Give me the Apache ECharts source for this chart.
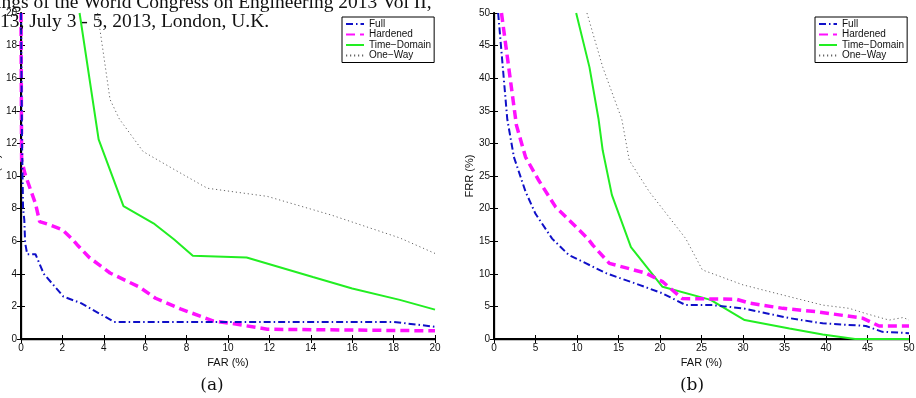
<!DOCTYPE html>
<html>
<head>
<meta charset="utf-8">
<script src="https://cdn.jsdelivr.net/npm/echarts@6/dist/echarts.min.js"></script>
<style>
  html, body { margin: 0; padding: 0; background: #fff; }
  #box { width: 916px; height: 398px; }
</style>
</head>
<body>
<div id="box"></div>
<script>
// data: [FAR, FRR] pairs

// (a) FAR 0-20
var fullA = [[0,20],[0.05,12],[0.1,8.0],[0.16,7.3],[0.2,5.9],[0.3,5.2],[0.7,5.2],[1.1,4.0],[2.05,2.6],[2.9,2.2],[4.5,1.05],[18,1.05],[20,0.75]];
var hardA = [[0,20],[0.03,11],[0.2,10.1],[0.45,9.2],[0.7,8.3],[0.9,7.2],[1.4,7.0],[2.0,6.7],[2.5,6.1],[2.7,5.8],[3.3,5.0],[4.3,4.05],[5.7,3.2],[6.5,2.5],[7.7,1.85],[9.3,1.1],[10.2,0.95],[11.9,0.6],[20,0.5]];
var timeA = [[2.83,20],[3.75,12.25],[4.95,8.15],[6.4,7.1],[7.4,6.1],[8.3,5.1],[10.9,5.0],[14.1,3.8],[16,3.1],[18.3,2.4],[20,1.8]];
var oneA  = [[3.7,20],[4.3,14.7],[4.75,13.5],[5.9,11.5],[7.4,10.4],[9.0,9.25],[11.9,8.75],[15,7.6],[18.3,6.2],[20,5.25]];

// (b) FAR 0-50
var fullB = [[0.5,50],[1.6,33.7],[2.4,27.9],[3.8,22.6],[5.0,19.2],[7.0,15.4],[9.0,12.9],[13.5,10.1],[17.5,8.3],[20.3,7.0],[23.1,5.2],[26.3,5.2],[30,4.7],[35.6,3.2],[39.6,2.4],[44.8,2.0],[46.8,1.1],[50,0.9]];
var hardB = [[0.9,50],[2.7,32.8],[3.8,27.9],[5.4,24.3],[7.4,20.3],[11.3,15.4],[11.9,14.4],[13.9,11.6],[18.3,10.1],[20.3,8.8],[22.7,6.2],[29.2,6.1],[30.8,5.5],[34.8,4.7],[38.8,4.2],[44.4,3.2],[46.4,2.0],[50,2.0]];
var timeB = [[9.9,50],[11.5,41.7],[12.6,33.7],[13.1,28.9],[14.2,22.1],[16.5,14.1],[20.3,8.0],[26.1,6.0],[30.2,2.9],[35.6,1.6],[39.6,0.7],[43.5,0],[50,0]];
var oneB  = [[11.2,50],[13.1,41.7],[15.4,33.7],[16.3,27.4],[18.7,22.6],[23.1,15.4],[25.1,10.6],[30,8.3],[34,7.0],[39.6,5.2],[42.8,4.7],[44.8,3.9],[47.6,2.9],[49.3,3.3],[50,2.9]];

var names = ['Full', 'Hardened', 'Time\u2212Domain', 'One\u2212Way'];
var headerLines = ['ings of the World Congress on Engineering 2013 Vol II,', '13, July 3 - 5, 2013, London, U.K.'];

var myChart = echarts.init(document.getElementById('box'));

var labelFont = { fontFamily: 'Liberation Sans', fontSize: 10, color: '#111' };
var nameFont = { fontFamily: 'Liberation Sans', fontSize: 11, color: '#111' };

function mainX(grid, max, step) {
    return {
        type: 'value', gridIndex: grid, min: 0, max: max, interval: step, position: 'bottom',
        name: 'FAR (%)', nameLocation: 'middle', nameGap: 12,
        nameTextStyle: nameFont,
        axisLine: { lineStyle: { color: '#000', width: 2 } },
        axisTick: { inside: true, length: 4, lineStyle: { color: '#000' } },
        axisLabel: Object.assign({ margin: 4 }, labelFont),
        splitLine: { show: false }
    };
}
function boxX(grid, max, step) {
    return {
        type: 'value', gridIndex: grid, min: 0, max: max, interval: step, position: 'top',
        axisLine: { lineStyle: { color: '#000', width: 1.3 } },
        axisTick: { inside: true, length: 4, lineStyle: { color: '#000' } },
        axisLabel: { show: false }, splitLine: { show: false }
    };
}
function mainY(grid, max, step) {
    return {
        type: 'value', gridIndex: grid, min: 0, max: max, interval: step, position: 'left',
        name: 'FRR (%)', nameLocation: 'middle', nameGap: 17,
        nameTextStyle: nameFont,
        axisLine: { lineStyle: { color: '#000', width: 2 } },
        axisTick: { inside: true, length: 4, lineStyle: { color: '#000' } },
        axisLabel: Object.assign({ margin: 4 }, labelFont),
        splitLine: { show: false }
    };
}
function boxY(grid, max, step) {
    return {
        type: 'value', gridIndex: grid, min: 0, max: max, interval: step, position: 'right',
        axisLine: { lineStyle: { color: '#000', width: 1.3 } },
        axisTick: { inside: true, length: 4, lineStyle: { color: '#000' } },
        axisLabel: { show: false }, splitLine: { show: false }
    };
}

var styles = [
    { color: '#1010c8', width: 2, type: [7, 3, 1.5, 3] },
    { color: '#ff10ff', width: 3.5, type: [9, 5] },
    { color: '#22ee22', width: 2, type: 'solid' },
    { color: '#666666', width: 1, type: [1.2, 2.8] }
];

function line(i, data, grid) {
    return {
        name: names[i], type: 'line', data: data,
        xAxisIndex: grid * 2, yAxisIndex: grid * 2,
        symbol: 'none', smooth: false, animation: false,
        lineStyle: styles[i], itemStyle: { color: styles[i].color },
        z: 4 - i
    };
}

function legendAt(left) {
    return {
        data: names, orient: 'vertical', left: left, top: 17,
        itemWidth: 18, itemHeight: 8, itemGap: 0.5,
        padding: [2, 3, 2, 3],
        borderColor: '#000', borderWidth: 1, backgroundColor: '#fff',
        itemStyle: { color: 'rgba(0,0,0,0)', borderWidth: 0, opacity: 0 },
        textStyle: { fontFamily: 'Liberation Sans', fontSize: 10, color: '#111', lineHeight: 10 },
        selectedMode: false
    };
}

var option = {
    backgroundColor: '#fff',
    animation: false,
    grid: [
        { left: 21, top: 13, width: 414, height: 326, outerBoundsMode: 'none', containLabel: false },
        { left: 494, top: 13, width: 415, height: 326, outerBoundsMode: 'none', containLabel: false }
    ],
    xAxis: [mainX(0, 20, 2), boxX(0, 20, 2), mainX(1, 50, 5), boxX(1, 50, 5)],
    yAxis: [mainY(0, 20, 2), boxY(0, 20, 2), mainY(1, 50, 5), boxY(1, 50, 5)],
    legend: [legendAt(342), legendAt(815)],
    series: [
        line(0, fullA, 0), line(1, hardA, 0), line(2, timeA, 0), line(3, oneA, 0),
        line(0, fullB, 1), line(1, hardB, 1), line(2, timeB, 1), line(3, oneB, 1)
    ],
    graphic: [
        { type: 'text', left: -4, top: -7, z: 100, style: { text: headerLines[0], font: '19.5px "Liberation Serif"', fill: '#111' } },
        { type: 'text', left: 0, top: 12, z: 100, style: { text: headerLines[1], font: '19.5px "Liberation Serif"', fill: '#111' } },
        { type: 'text', x: 212, y: 386, z: 100, style: { text: '(a)', font: '17px "DejaVu Serif"', fill: '#111', align: 'center', verticalAlign: 'middle' } },
        { type: 'text', x: 692, y: 386, z: 100, style: { text: '(b)', font: '17px "DejaVu Serif"', fill: '#111', align: 'center', verticalAlign: 'middle' } }
    ]
};

myChart.setOption(option);
</script>
</body>
</html>
